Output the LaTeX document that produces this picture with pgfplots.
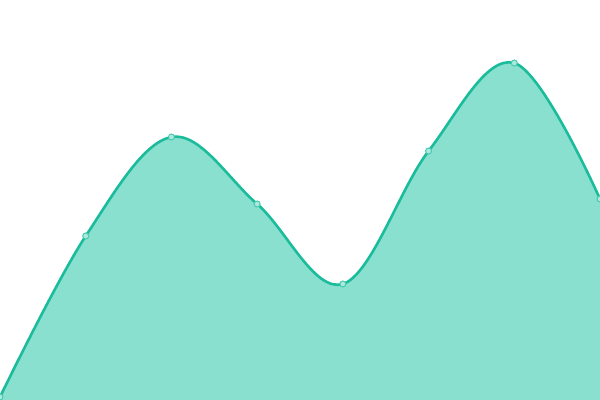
\documentclass[border=0pt]{standalone}
\usepackage{pgfplots}
\pgfplotsset{compat=1.18}
\definecolor{lineC}{HTML}{1ABC9C}
\definecolor{fillC}{HTML}{8AE0CF}

\pgfplotstableread{
x y
0 3
1 164
2 263
3 196
4 116
5 249
6 337
7 201
}\series

\begin{document}
\begin{tikzpicture}
\begin{axis}[
  width=600bp, height=400bp, scale only axis,
  hide axis,
  xmin=0, xmax=7, ymin=0, ymax=400,
  clip marker paths=true,
]
\coordinate (bl) at (rel axis cs:0,0);
\coordinate (tr) at (rel axis cs:1,1);
% area under the curve
\addplot[draw=none, fill=fillC, smooth, tension=0.6] table[x=x, y=y] {\series} \closedcycle;
% line with markers
\addplot[draw=lineC, line width=2.6bp, smooth, tension=0.6,
  mark=*, mark size=3bp,
  mark options={fill=fillC!70!white, draw=lineC!80!white, line width=1bp, solid}]
  table[x=x, y=y] {\series};
\end{axis}
\pgfresetboundingbox
\path (bl) rectangle (tr);
\end{tikzpicture}
\end{document}
